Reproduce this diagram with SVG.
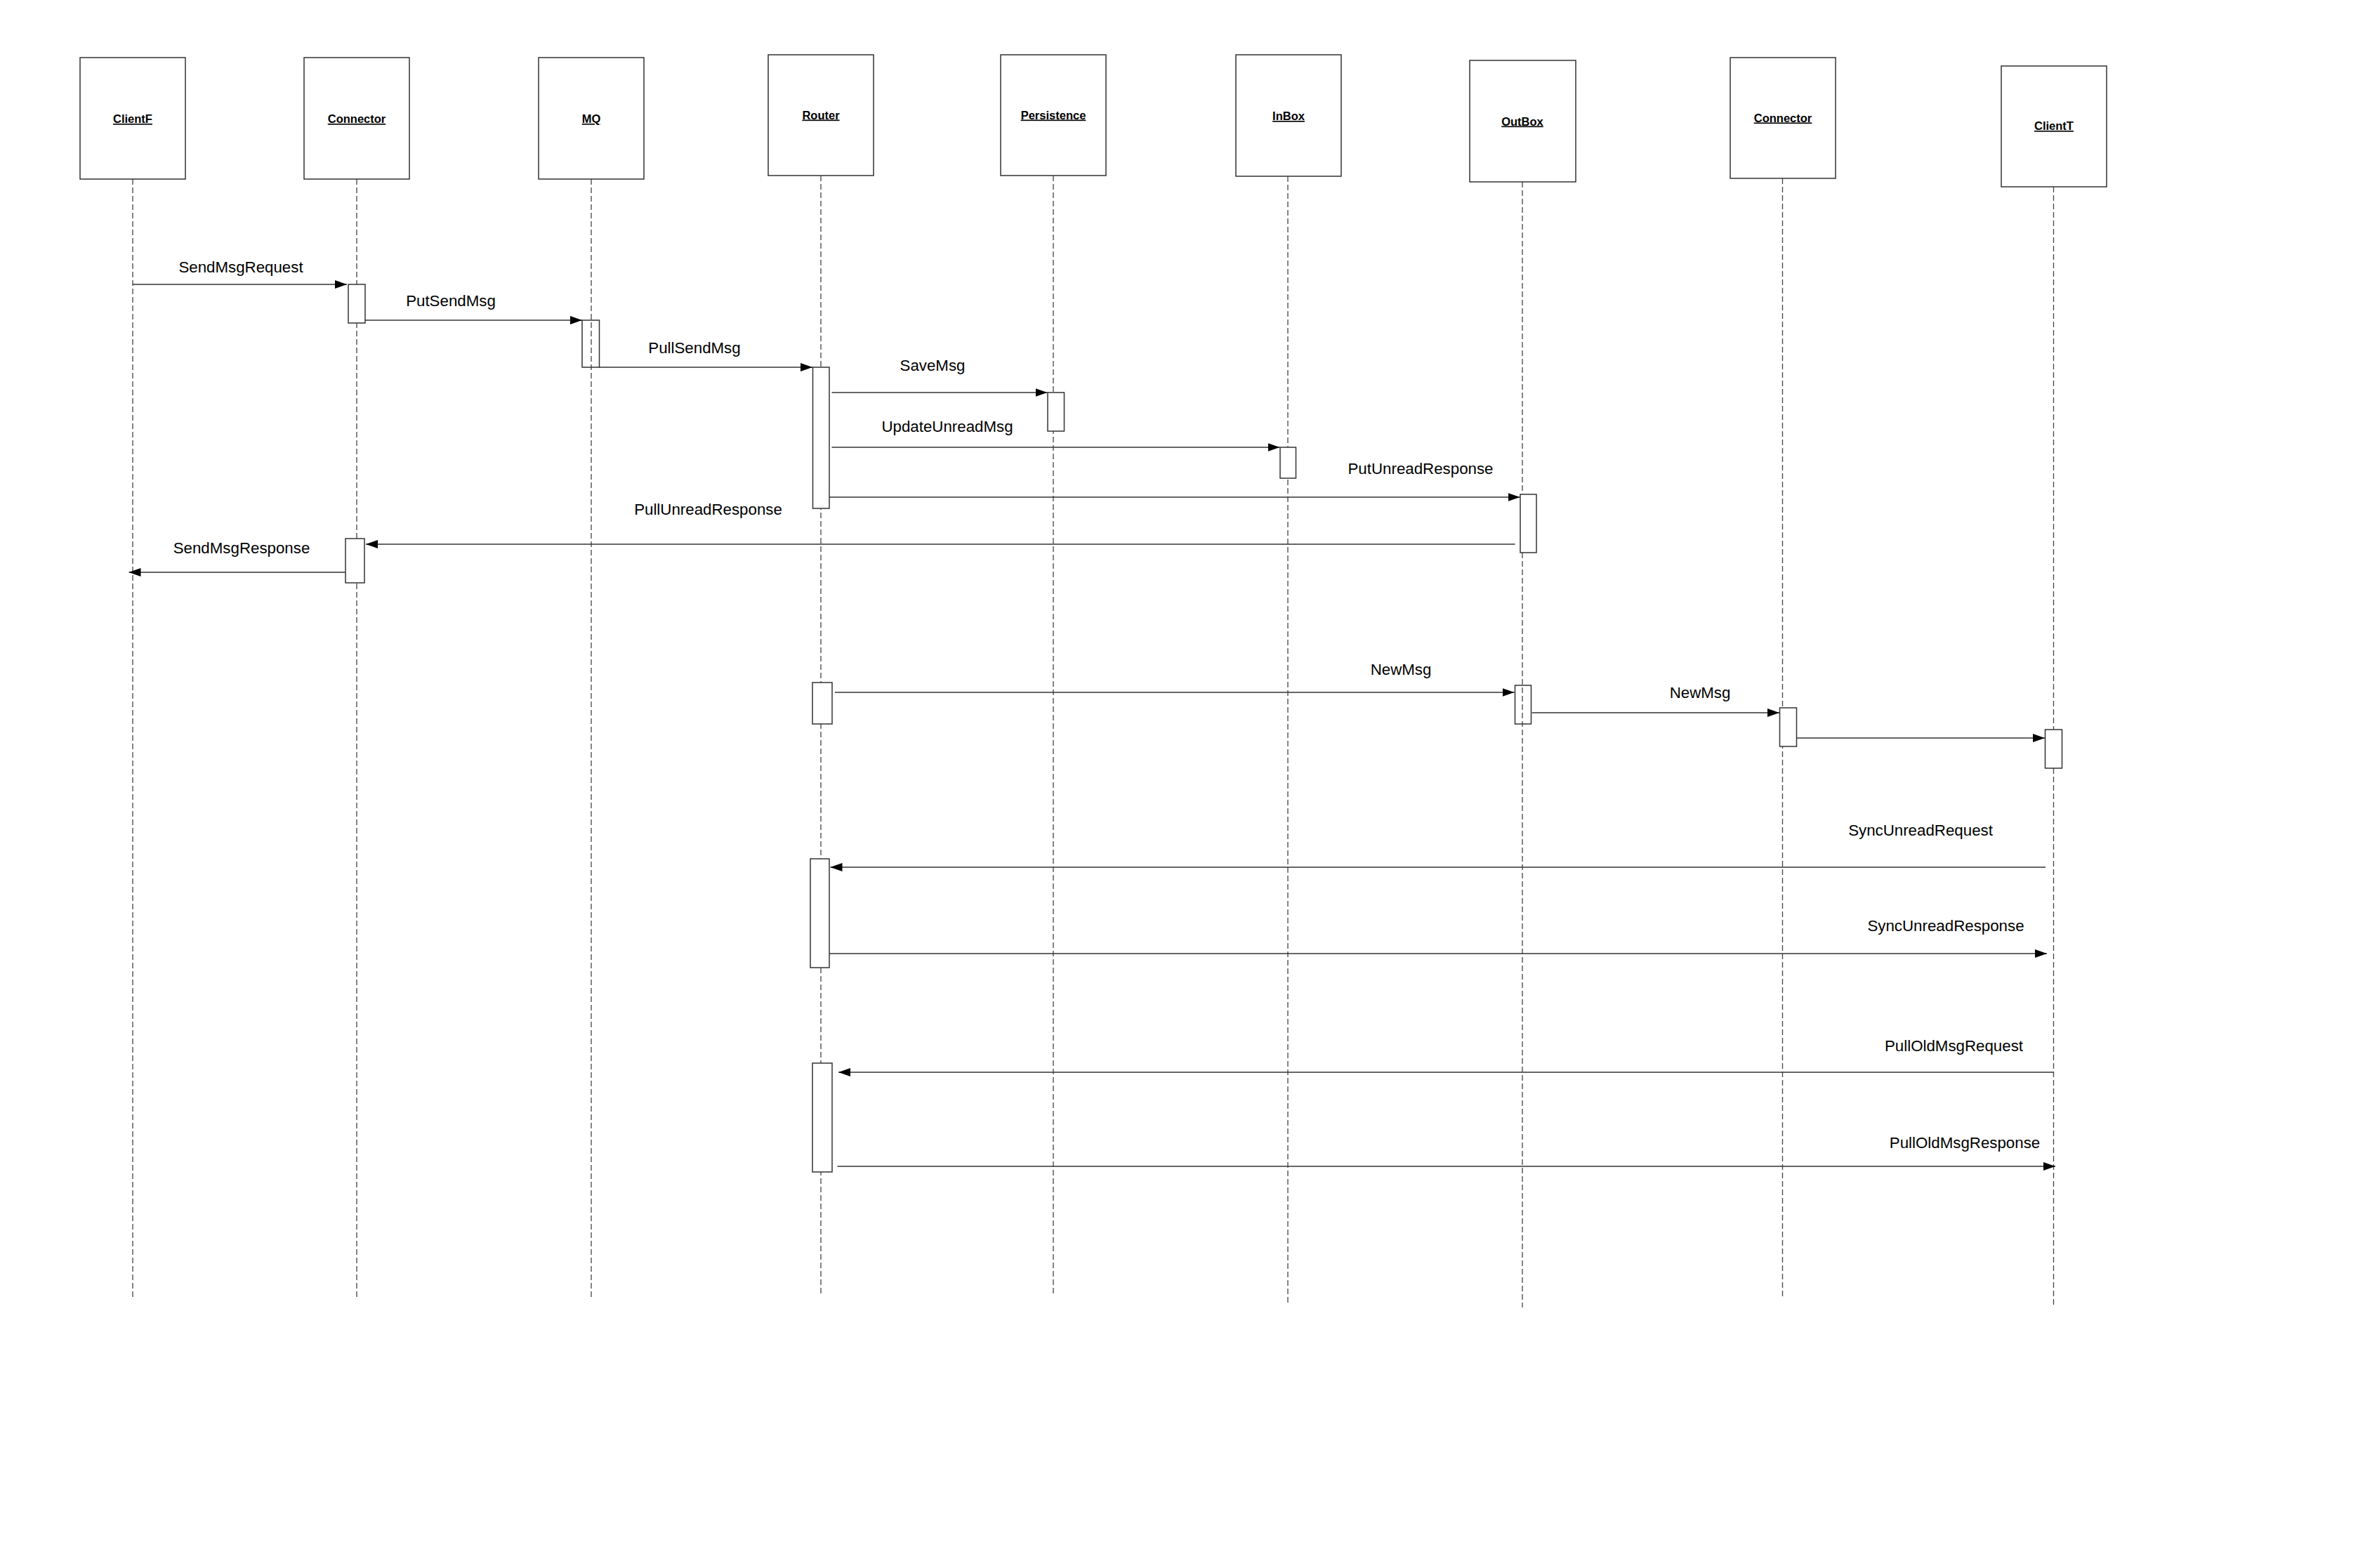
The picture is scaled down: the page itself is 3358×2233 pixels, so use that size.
<svg xmlns="http://www.w3.org/2000/svg" width="3358" height="2233" viewBox="0 0 3358 2233">
<style>
.box{fill:#fff;stroke:#333;stroke-width:1.5}
.life{stroke:#444;stroke-width:1.3;stroke-dasharray:8 4;fill:none}
.act{fill:#fff;stroke:#333;stroke-width:1.5}
.nl{font-family:"Liberation Sans",Arial,sans-serif;font-size:16.5px;font-weight:bold;text-anchor:middle;text-decoration:underline;fill:#000}
.msg{stroke:#333;stroke-width:1.5;fill:none;marker-end:url(#ah)}
.ml{font-family:"Liberation Sans",Arial,sans-serif;font-size:22.3px;text-anchor:middle;fill:#000}
</style>
<defs>
<marker id="ah" markerUnits="userSpaceOnUse" markerWidth="17" markerHeight="12" refX="17" refY="6" orient="auto">
<path d="M0,0 L17,6 L0,12 z" fill="#000"/>
</marker>
</defs>
<rect width="3358" height="2233" fill="#fff"/>

<g id="ClientF">
<line class="life" x1="189" y1="255" x2="189" y2="1850"/>
<rect class="box" x="114" y="82" width="150" height="173"/>
<text class="nl" x="189" y="175">ClientF</text>
</g>
<g id="Connector">
<line class="life" x1="508" y1="255" x2="508" y2="1850"/>
<rect class="box" x="433" y="82" width="150" height="173"/>
<text class="nl" x="508" y="175">Connector</text>
<rect class="act" x="496" y="405" width="24" height="55"/>
<rect class="act" x="492" y="767" width="27" height="63"/>
</g>
<g id="MQ">
<line class="life" x1="842" y1="255" x2="842" y2="1850"/>
<rect class="box" x="767" y="82" width="150" height="173"/>
<text class="nl" x="842" y="175">MQ</text>
<rect class="act" x="829" y="456" width="24.5" height="67" fill-opacity="0"/>
</g>
<g id="Router">
<line class="life" x1="1169" y1="250" x2="1169" y2="1846"/>
<rect class="box" x="1094" y="78" width="150" height="172"/>
<text class="nl" x="1169" y="169.5">Router</text>
<rect class="act" x="1157.5" y="523" width="23.5" height="201"/>
<rect class="act" x="1157" y="972" width="28" height="59"/>
<rect class="act" x="1154" y="1223" width="27" height="155"/>
<rect class="act" x="1157" y="1514" width="28" height="155"/>
</g>
<g id="Persistence">
<line class="life" x1="1500" y1="250" x2="1500" y2="1845"/>
<rect class="box" x="1425" y="78" width="150" height="172"/>
<text class="nl" x="1500" y="169.5">Persistence</text>
<rect class="act" x="1492" y="559" width="23.5" height="55"/>
</g>
<g id="InBox">
<line class="life" x1="1834" y1="251" x2="1834" y2="1855"/>
<rect class="box" x="1760" y="78" width="150" height="173"/>
<text class="nl" x="1835" y="171">InBox</text>
<rect class="act" x="1823" y="637" width="22.5" height="44"/>
</g>
<g id="OutBox">
<line class="life" x1="2168" y1="259" x2="2168" y2="1862"/>
<rect class="box" x="2093" y="86" width="151" height="173"/>
<text class="nl" x="2168" y="178.5">OutBox</text>
<rect class="act" x="2165" y="704" width="23" height="83"/>
<rect class="act" x="2157.5" y="976" width="23" height="55" fill-opacity="0"/>
</g>
<g id="Connector2">
<line class="life" x1="2538.5" y1="254" x2="2538.5" y2="1849"/>
<rect class="box" x="2464" y="82" width="150" height="172"/>
<text class="nl" x="2539" y="173.5">Connector</text>
<rect class="act" x="2534.5" y="1008" width="24" height="55"/>
</g>
<g id="ClientT">
<line class="life" x1="2924.5" y1="266" x2="2924.5" y2="1861"/>
<rect class="box" x="2850" y="94" width="150" height="172"/>
<text class="nl" x="2925" y="185">ClientT</text>
<rect class="act" x="2912.5" y="1039" width="24" height="55"/>
</g>

<g id="connectors">
<line class="msg" x1="189" y1="405" x2="494" y2="405"/>
<text class="ml" x="343" y="388">SendMsgRequest</text>
<line class="msg" x1="520" y1="456" x2="829" y2="456"/>
<text class="ml" x="642" y="436">PutSendMsg</text>
<line class="msg" x1="853" y1="523" x2="1157" y2="523"/>
<text class="ml" x="989" y="503">PullSendMsg</text>
<line class="msg" x1="1184.5" y1="559" x2="1491.5" y2="559"/>
<text class="ml" x="1328" y="528">SaveMsg</text>
<line class="msg" x1="1184.5" y1="637" x2="1822.5" y2="637"/>
<text class="ml" x="1349" y="615">UpdateUnreadMsg</text>
<line class="msg" x1="1181" y1="708" x2="2164.5" y2="708"/>
<text class="ml" x="2023" y="675">PutUnreadResponse</text>
<line class="msg" x1="2157.5" y1="775" x2="521" y2="775"/>
<text class="ml" x="1008.5" y="733">PullUnreadResponse</text>
<line class="msg" x1="492" y1="815" x2="183.5" y2="815"/>
<text class="ml" x="344" y="788">SendMsgResponse</text>
<line class="msg" x1="1189" y1="986" x2="2156.5" y2="986"/>
<text class="ml" x="1995" y="961">NewMsg</text>
<line class="msg" x1="2181.5" y1="1015" x2="2534" y2="1015"/>
<text class="ml" x="2421" y="994">NewMsg</text>
<line class="msg" x1="2558.5" y1="1051" x2="2912" y2="1051"/>
<line class="msg" x1="2913" y1="1235" x2="1182.5" y2="1235"/>
<text class="ml" x="2735" y="1190">SyncUnreadRequest</text>
<line class="msg" x1="1181" y1="1358" x2="2915" y2="1358"/>
<text class="ml" x="2771" y="1326">SyncUnreadResponse</text>
<line class="msg" x1="2924.5" y1="1527" x2="1194" y2="1527"/>
<text class="ml" x="2782.5" y="1497">PullOldMsgRequest</text>
<line class="msg" x1="1192.5" y1="1661" x2="2927" y2="1661"/>
<text class="ml" x="2798" y="1635">PullOldMsgResponse</text>
</g>
</svg>
